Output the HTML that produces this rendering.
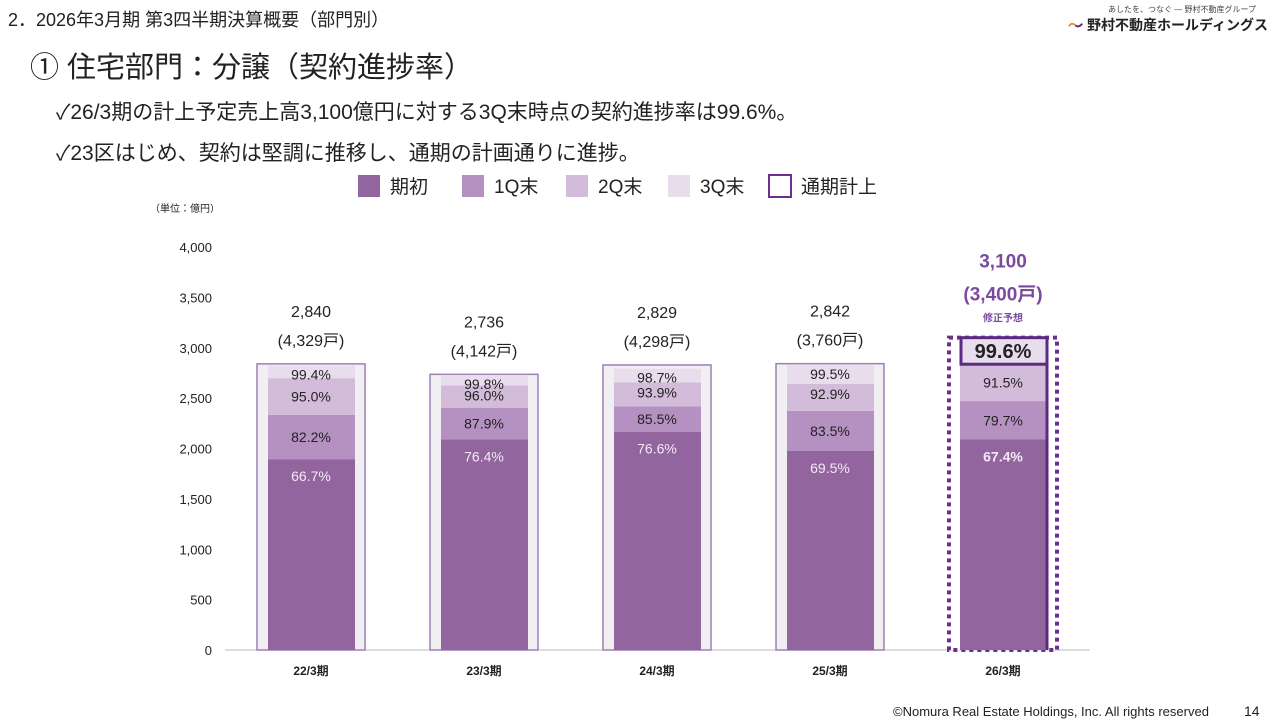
<!DOCTYPE html>
<html><head><meta charset="utf-8">
<style>
body{margin:0;width:1280px;height:720px;background:#fff;overflow:hidden;font-family:"Liberation Sans","Noto Sans CJK JP",sans-serif;color:#222;position:relative}
.abs{position:absolute;white-space:nowrap}
</style></head><body>
<div class="abs" style="left:8px;top:6px;font-size:18px">2．2026年3月期 第3四半期決算概要（部門別）</div>
<div class="abs" style="left:30px;top:44px;font-size:29px">① 住宅部門：分譲（契約進捗率）</div>
<div class="abs" style="left:56px;top:96px;font-size:21px">✓26/3期の計上予定売上高3,100億円に対する3Q末時点の契約進捗率は99.6%。</div>
<div class="abs" style="left:56px;top:137px;font-size:21px">✓23区はじめ、契約は堅調に推移し、通期の計画通りに進捗。</div>
<div class="abs" style="left:1068px;top:4px;width:200px">
 <div style="font-size:8px;color:#444;margin-left:40px">あしたを、つなぐ ― 野村不動産グループ</div>
 <div style="display:flex;align-items:center;font-size:14px;font-weight:bold;color:#222"><svg width="34" height="14" viewBox="0 0 34 14"><path d="M2 10 Q8 0 16 7 Q24 14 32 4" stroke="#e8901a" stroke-width="4" fill="none"/><path d="M17 8 Q24 14 32 4" stroke="#5a2a7a" stroke-width="4" fill="none"/></svg>&nbsp;野村不動産ホールディングス</div>
</div>
<div class="abs" style="left:893px;top:704px;font-size:13px">©Nomura Real Estate Holdings, Inc. All rights reserved</div>
<div class="abs" style="left:1244px;top:703px;font-size:14px">14</div>
<svg id="chart" width="1280" height="720" style="position:absolute;left:0;top:0" font-family="Liberation Sans, Noto Sans CJK JP, sans-serif"></svg>
<script>
const categories=["22/3期","23/3期","24/3期","25/3期","26/3期"];
const totals=[2840,2736,2829,2842,3100];
const units=["4,329","4,142","4,298","3,760","3,400"];
const pInit=[66.7,76.4,76.6,69.5,67.4];
const p1Q=[82.2,87.9,85.5,83.5,79.7];
const p2Q=[95.0,96.0,93.9,92.9,91.5];
const p3Q=[99.4,99.8,98.7,99.5,99.6];
const yTicks=[0,500,1000,1500,2000,2500,3000,3500,4000];
const legendLabels=["期初","1Q末","2Q末","3Q末","通期計上"];
const colors=["#93659f","#b591c1","#d2bcda","#e8dded"];
const svg=document.getElementById('chart');
const NS="http://www.w3.org/2000/svg";
const y=v=>650-v*403/4000;
const xc=i=>311+i*173;
function mk(t,a,txt){const e=document.createElementNS(NS,t);for(const k in a)e.setAttribute(k,a[k]);if(txt!==undefined)e.textContent=txt;svg.appendChild(e);return e;}
let ax=mk('line',{x1:225,y1:650,x2:1090,y2:650,stroke:'#bbb','stroke-width':1});


yTicks.forEach(v=>{const t=mk('text',{x:212,y:y(v)+5,'text-anchor':'end','font-size':13,fill:'#222'},v.toLocaleString('en-US'));

});
let u=mk('text',{x:150,y:212,'font-size':10,fill:'#222'},'（単位：億円）');


categories.forEach((c,i)=>{
 const cx=xc(i),T=totals[i],last=i===4;
 const ob=mk('rect',{x:cx-54,y:y(T),width:108,height:650-y(T),fill:last?'#fff':'#f1eff1',stroke:last?'#6b2f8f':'#9b80b5','stroke-width':last?4:1.5,'stroke-dasharray':last?'4,4':'none'});
 
 
 const vals=[0,pInit[i],p1Q[i],p2Q[i],p3Q[i]];
 let topSegY0=0;
 for(let k=1;k<5;k++){
  const y0=y(T*vals[k-1]/100),y1=y(T*vals[k]/100);
  const r=mk('rect',{x:cx-43,y:y1,width:87,height:y0-y1,fill:colors[k-1]});
  
  
  let ty;
  if(k===1)ty=y1+22;
  else if(k===4)ty=last?(y0+y(T))/2+7:y1+14;
  else {ty=(y0+y1)/2+5; if(k===3&&y0-y1<30)ty=y1+15;}
  if(k===4)topSegY0=y0;
  const big=k===4&&last;
  const lt=mk('text',{x:cx,y:ty,'text-anchor':'middle','font-size':big?20:14,'font-weight':(big||(k===1&&last))?'bold':'normal',fill:k===1?'#f3eaf5':'#222'},vals[k].toFixed(1)+'%');
  
  
 }
 if(last){
  const fr=mk('rect',{x:cx-42,y:y(T),width:86,height:topSegY0-y(T),fill:'none',stroke:'#5c2a80','stroke-width':3});
  
  
  const rl=mk('line',{x1:cx+44,y1:y(T),x2:cx+44,y2:650,stroke:'#5c2a80','stroke-width':3});
  
  
  const a=mk('text',{x:cx,y:y(T)-70,'text-anchor':'middle','font-size':19,'font-weight':'bold',fill:'#7b4a9e'},T.toLocaleString('en-US'));
  
  
  const b=mk('text',{x:cx,y:y(T)-37,'text-anchor':'middle','font-size':19,'font-weight':'bold',fill:'#7b4a9e'},'('+units[i]+'戸)');
  
  
  const f=mk('text',{x:cx,y:y(T)-16,'text-anchor':'middle','font-size':10,'font-weight':'bold',fill:'#7b4a9e'},'修正予想');
  
  
 }else{
  const a=mk('text',{x:cx,y:y(T)-47,'text-anchor':'middle','font-size':16,fill:'#222'},T.toLocaleString('en-US'));
  
  
  const b=mk('text',{x:cx,y:y(T)-18,'text-anchor':'middle','font-size':16,fill:'#222'},'('+units[i]+'戸)');
  
  
 }
 const cl=mk('text',{x:cx,y:675,'text-anchor':'middle','font-size':12,'font-weight':'bold',fill:'#222'},c);
 
 
});
const lx=[358,462,566,668,769];
legendLabels.forEach((l,i)=>{
 const r=mk('rect',{x:lx[i],y:175,width:22,height:22,fill:i<4?colors[i]:'#fff',stroke:i<4?'none':'#6b2f8f','stroke-width':2});
 
 
 const t=mk('text',{x:lx[i]+32,y:193,'font-size':19,fill:'#222'},l);
 
 
});
</script>
</body></html>
